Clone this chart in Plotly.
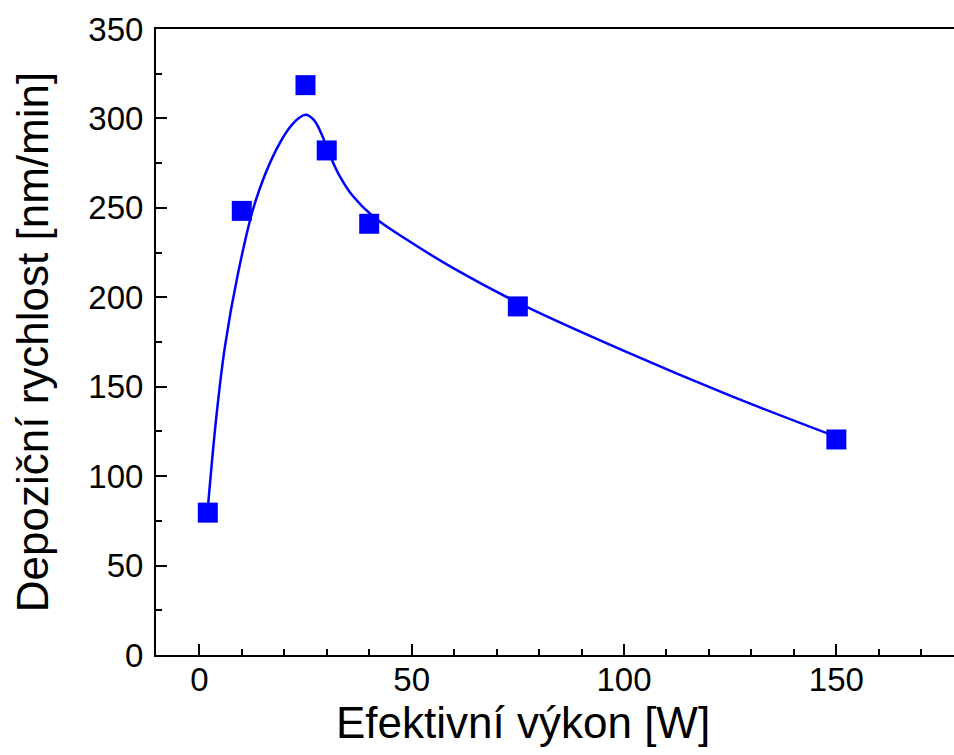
import plotly.graph_objects as go

# measured data points
power_w = [2, 10, 25, 30, 40, 75, 150]
rate_nm_min = [79.6, 248.3, 318.6, 282.1, 241.1, 194.9, 120.5]

# fitted curve
fit_x = [2, 4, 6, 9, 13, 18, 22, 25, 27, 29, 31, 33, 36, 41, 49, 60, 75, 100, 125, 150]
fit_y = [82, 133, 172, 212, 252, 282, 297, 302, 299, 290, 278, 268, 257, 245, 232, 216, 197, 170, 145, 122]

x_tick_vals = [0, 50, 100, 150]
y_tick_vals = [0, 50, 100, 150, 200, 250, 300, 350]

x_title = "Efektivní výkon [W]"
y_title = "Depoziční rychlost [nm/min]"

FONT = "Liberation Sans, Arial, sans-serif"

fig = go.Figure()
fig.add_trace(go.Scatter(
    x=fit_x, y=fit_y, mode="lines",
    line=dict(color="#0000FF", width=2.5, shape="spline", smoothing=1),
    hoverinfo="skip", showlegend=False,
))
fig.add_trace(go.Scatter(
    x=power_w, y=rate_nm_min, mode="markers",
    marker=dict(symbol="square", size=20, color="#0000FF"),
    showlegend=False,
))

fig.update_layout(
    width=954, height=755,
    margin=dict(l=156, r=0, t=29, b=100),
    paper_bgcolor="white", plot_bgcolor="white",
    font=dict(family=FONT, color="black"),
    xaxis=dict(
        range=[-10.2, 177.7],
        tickvals=x_tick_vals,
        ticks="inside", ticklen=11, tickwidth=2, tickcolor="black",
        minor=dict(dtick=10, tick0=0, ticks="inside", ticklen=6, tickwidth=2, tickcolor="black"),
        showline=True, linewidth=2, linecolor="black", mirror=True,
        showgrid=False, zeroline=False,
        tickfont=dict(size=33, family=FONT),
        ticklabelstandoff=-6,
    ),
    yaxis=dict(
        range=[0, 350],
        tickvals=y_tick_vals,
        ticks="inside", ticklen=11, tickwidth=2, tickcolor="black",
        minor=dict(dtick=25, tick0=0, ticks="inside", ticklen=6, tickwidth=2, tickcolor="black"),
        showline=True, linewidth=2, linecolor="black", mirror=False,
        showgrid=False, zeroline=False,
        tickfont=dict(size=33, family=FONT),
        ticklabelstandoff=4,
        title=dict(text=y_title, font=dict(size=44, family=FONT), standoff=26),
    ),
    annotations=[dict(
        text=x_title, xref="paper", yref="paper",
        x=0.46, y=-0.108, xanchor="center", yanchor="middle",
        showarrow=False, font=dict(size=44, family=FONT, color="black"),
    )],
)

fig.write_html("out.html", post_script="document.body.style.margin='0';",
               config={"displayModeBar": False})
